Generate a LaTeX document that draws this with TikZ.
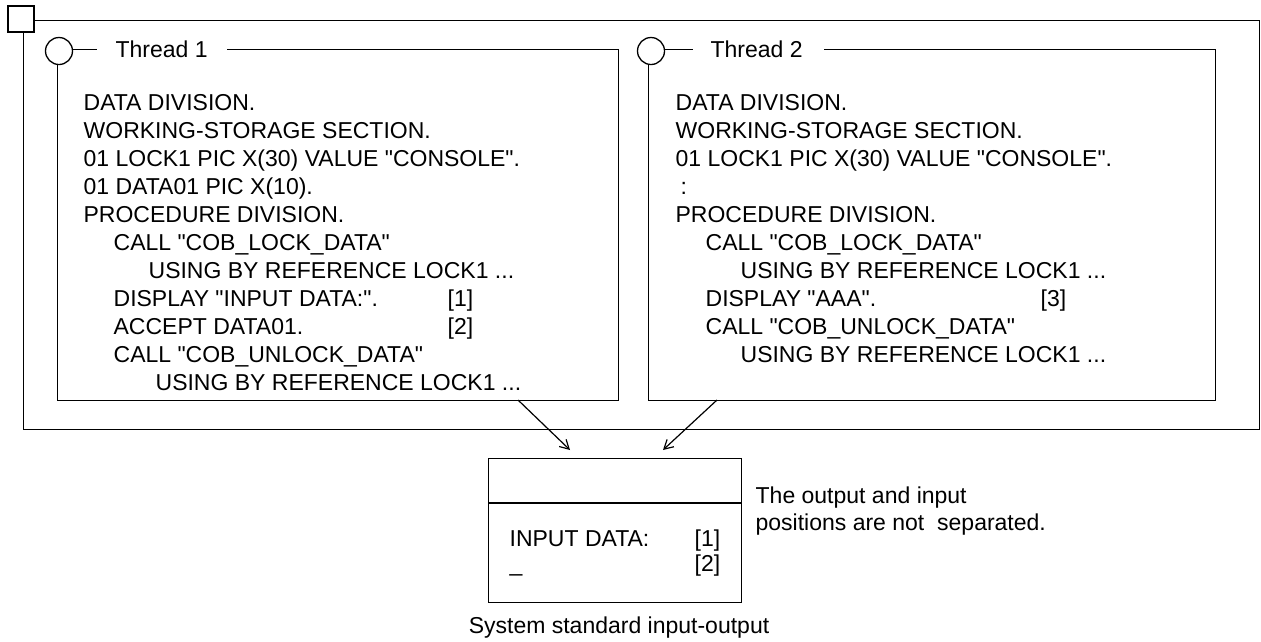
\documentclass[tikz,border=0pt]{standalone}
\usepackage{fontspec}
\setmainfont{Liberation Sans}[Ligatures=TeXOff]
\usetikzlibrary{arrows.meta}
\begin{document}
\begin{tikzpicture}[x=1pt,y=-1pt,line width=1.3pt,
  code/.style={anchor=base west,inner sep=0pt,font=\fontsize{23}{28}\selectfont},
  boxframe/.style={draw,anchor=north west,inner sep=0pt},
  knob/.style={circle,draw,fill=white,inner sep=0pt,minimum size=27pt},
  arr/.style={-{Straight Barb[length=9pt,width=10pt]},line width=1.2pt}]
\useasboundingbox (0,0) rectangle (1261,641);
% outer frame and corner square
\node[boxframe,minimum width=1236pt,minimum height=409pt] (outer) at (23,20) {};
\node[draw,fill=white,inner sep=0pt,minimum size=26pt] (sq) at (21,19) {};
% thread boxes
\node[boxframe,minimum width=561pt,minimum height=351pt] (t1) at (57,49) {};
\node[boxframe,minimum width=567pt,minimum height=351pt] (t2) at (648,49) {};
\fill[white] (97,43) rectangle (227,56);
\fill[white] (693,43) rectangle (824,56);
\node[knob] (k1) at (59,51) {};
\node[knob] (k2) at (651,51) {};
\node[code] (l1) at (115,57) {Thread 1};
\node[code] (l2) at (710,57) {Thread 2};
% thread 1 code
\node[code] (a1) at (83,110) {DATA DIVISION.};
\node[code] (a2) at (83,138) {WORKING-STORAGE SECTION.};
\node[code] (a3) at (83,166) {01 LOCK1 PIC X(30) VALUE "CONSOLE".};
\node[code] (a4) at (83,194) {01 DATA01 PIC X(10).};
\node[code] (a5) at (83,222) {PROCEDURE DIVISION.};
\node[code] (a6) at (113,250) {CALL "COB\_LOCK\_DATA"};
\node[code] (a7) at (148,278) {USING BY REFERENCE LOCK1 ...};
\node[code] (a8) at (113,306) {DISPLAY "INPUT DATA:".};
\node[code] (a8n) at (447,306) {[1]};
\node[code] (a9) at (113,334) {ACCEPT DATA01.};
\node[code] (a9n) at (447,334) {[2]};
\node[code] (a10) at (113,362) {CALL "COB\_UNLOCK\_DATA"};
\node[code] (a11) at (155,390) {USING BY REFERENCE LOCK1 ...};
% thread 2 code
\node[code] (b1) at (675,110) {DATA DIVISION.};
\node[code] (b2) at (675,138) {WORKING-STORAGE SECTION.};
\node[code] (b3) at (675,166) {01 LOCK1 PIC X(30) VALUE "CONSOLE".};
\node[code] (b4) at (680,194) {:};
\node[code] (b5) at (675,222) {PROCEDURE DIVISION.};
\node[code] (b6) at (705,250) {CALL "COB\_LOCK\_DATA"};
\node[code] (b7) at (740,278) {USING BY REFERENCE LOCK1 ...};
\node[code] (b8) at (705,306) {DISPLAY "AAA".};
\node[code] (b8n) at (1040,306) {[3]};
\node[code] (b9) at (705,334) {CALL "COB\_UNLOCK\_DATA"};
\node[code] (b10) at (740,362) {USING BY REFERENCE LOCK1 ...};
% system standard input-output
\node[boxframe,minimum width=253pt,minimum height=144pt] (io) at (488,458) {};
\draw (io.west |- 0,503) -- (io.east |- 0,503);
\node[code] (io1) at (509,546) {INPUT DATA:};
\node[code] (io1n) at (694,546) {[1]};
\node[code] (io2) at (509,571) {\_};
\node[code] (io2n) at (694,571) {[2]};
\node[code,anchor=base] (iocap) at (619,633) {System standard input-output};
\node[code] (n1) at (755,503) {The output and input};
\node[code] (n2) at (755,530) {positions are not\ \ separated.};
% arrows
\coordinate (s1) at (518,400);
\coordinate (e1) at (570,450);
\coordinate (s2) at (717,400);
\coordinate (e2) at (663,450);
\draw[arr] (s1) -- (e1);
\draw[arr] (s2) -- (e2);
\end{tikzpicture}
\end{document}
